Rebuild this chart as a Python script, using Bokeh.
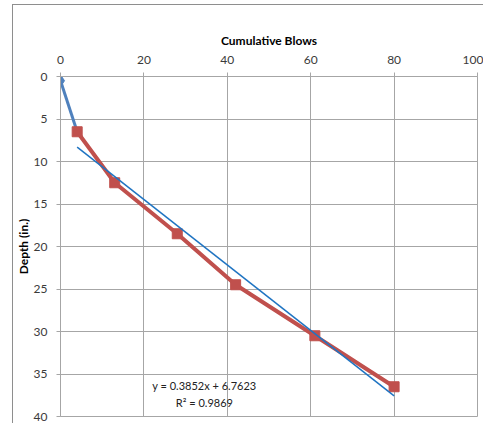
from bokeh.plotting import figure
from bokeh.models import Range1d, FixedTicker, Label
from bokeh.embed import file_html
from bokeh.resources import INLINE

# ---- data ----
blows_start = [0, 4]
depth_start = [0.5, 6.5]

blows_main = [4, 13, 28, 42, 61, 80]
depth_main = [6.5, 12.5, 18.5, 24.5, 30.5, 36.5]

trend_slope = 0.3852
trend_intercept = 6.7623
trend_text = "y = 0.3852x + 6.7623"
r2_text = "R\u00b2 = 0.9869"

x_ticks = [0, 20, 40, 60, 80, 100]
y_ticks = [0, 5, 10, 15, 20, 25, 30, 35, 40]

x_title = "Cumulative Blows"
y_title = "Depth (in.)"

FONT = "Lato"
GRID = "#a6a6a6"
FRAME = "#8e8e8e"
BLUE = "#4F81BD"
RED = "#C0504D"
TREND = "#1F74C2"

p = figure(
    frame_width=417, frame_height=340,
    x_range=Range1d(0, 100), y_range=Range1d(40, 0),
    x_axis_location="above",
    output_backend="svg", toolbar_location=None,
    min_border_left=60, min_border_top=76,
    min_border_right=6, min_border_bottom=7,
)
# chart-area frame (left and top edges visible), drawn behind a transparent border fill
p.styles = {
    "background": (
        f"linear-gradient({FRAME},{FRAME}) 12px 4px / 1px 100% no-repeat, "
        f"linear-gradient({FRAME},{FRAME}) 12px 4px / 100% 1px no-repeat, "
        "white"
    ),
}
p.background_fill_color = "white"
p.border_fill_color = "white"
p.border_fill_alpha = 0
p.outline_line_color = GRID

p.xaxis.ticker = FixedTicker(ticks=x_ticks)
p.yaxis.ticker = FixedTicker(ticks=y_ticks)
p.xgrid.ticker = FixedTicker(ticks=x_ticks)
p.ygrid.ticker = FixedTicker(ticks=y_ticks)

for ax in (p.xaxis, p.yaxis):
    ax.axis_line_color = GRID
    ax.major_tick_line_color = GRID
    ax.minor_tick_line_color = None
    ax.major_tick_in = 0
    ax.major_tick_out = 4
    ax.major_label_standoff = 9
    ax.major_label_text_font = FONT
    ax.major_label_text_font_size = "12px"
    ax.major_label_text_color = "#3a3a3a"
    ax.axis_label_text_font = FONT
    ax.axis_label_text_font_size = "12px"
    ax.axis_label_text_font_style = "bold"
    ax.axis_label_text_color = "#000000"

p.xaxis.axis_label = x_title
p.yaxis.axis_label = y_title
p.xaxis.axis_label_standoff = 5
p.yaxis.axis_label_standoff = 0

p.grid.grid_line_color = GRID
p.grid.grid_line_width = 1

# series
p.line(blows_start, depth_start, line_color=BLUE, line_width=3)
p.scatter(blows_start[:1], depth_start[:1], marker="diamond", size=12,
          fill_color=BLUE, line_color=BLUE)

p.line(blows_main, depth_main, line_color=RED, line_width=4)
p.scatter(blows_main, depth_main, marker="square", size=10,
          fill_color=RED, line_color=RED)

# linear trendline over the fitted series' span
tx = [min(blows_main), max(blows_main)]
ty = [trend_slope * v + trend_intercept for v in tx]
p.line(tx, ty, line_color=TREND, line_width=1.5)

p.add_layout(Label(x=34.5, y=36.4, text=trend_text, text_align="center",
                   text_baseline="middle", text_font=FONT,
                   text_font_size="11px", text_color="#222222"))
p.add_layout(Label(x=34.5, y=38.3, text=r2_text, text_align="center",
                   text_baseline="middle", text_font=FONT,
                   text_font_size="11px", text_color="#222222"))

open("out.html", "w").write(file_html(p, INLINE))
